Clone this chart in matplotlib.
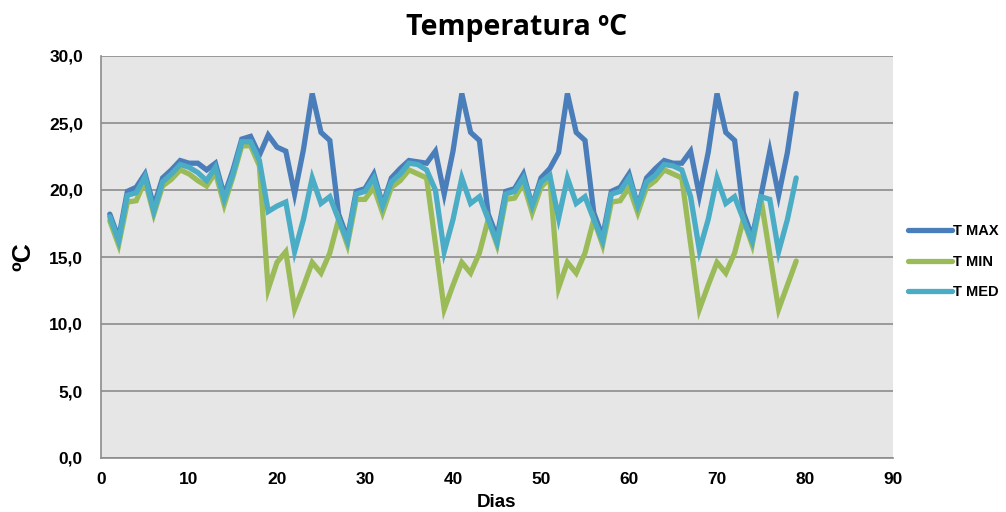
import matplotlib.pyplot as plt
from matplotlib.ticker import FuncFormatter

dias = list(range(1, 80))

t_max = [18.2, 16.4, 19.9, 20.2, 21.2, 18.8, 20.9, 21.5, 22.2, 22.0,
         22.0, 21.5, 22.0, 19.6, 21.5, 23.8, 24.0, 22.6, 24.1, 23.2,
         22.9, 19.7, 23.0, 27.2, 24.3, 23.7, 18.2, 16.4, 19.9, 20.1,
         21.2, 18.9, 20.9, 21.6, 22.2, 22.1, 22.0, 22.9, 19.7, 22.9,
         27.2, 24.3, 23.7, 18.2, 16.5, 19.9, 20.1, 21.2, 18.8, 20.9,
         21.6, 22.8, 27.2, 24.3, 23.7, 18.3, 16.5, 19.9, 20.2, 21.2,
         18.8, 20.9, 21.6, 22.2, 22.0, 22.0, 22.9, 19.6, 22.8, 27.2,
         24.3, 23.7, 18.3, 16.5, 19.6, 22.9, 19.6, 22.8, 27.2]

t_min = [17.7, 15.9, 19.1, 19.2, 20.7, 18.2, 20.3, 20.8, 21.5, 21.2,
         20.7, 20.3, 21.3, 18.9, 21.0, 23.3, 23.3, 21.8, 12.6, 14.6,
         15.4, 11.1, 12.8, 14.6, 13.8, 15.3, 17.8, 15.9, 19.3, 19.3,
         20.2, 18.3, 20.2, 20.7, 21.5, 21.2, 20.9, 16.0, 11.1, 12.9,
         14.6, 13.8, 15.3, 17.8, 15.9, 19.3, 19.4, 20.5, 18.3, 20.2,
         20.9, 12.7, 14.6, 13.8, 15.3, 17.8, 15.9, 19.1, 19.2, 20.2,
         18.3, 20.2, 20.7, 21.5, 21.2, 20.9, 16.0, 11.1, 12.9, 14.6,
         13.8, 15.3, 17.8, 15.9, 19.3, 15.2, 11.1, 12.9, 14.7]

t_med = [18.0, 16.2, 19.6, 19.8, 21.0, 18.4, 20.6, 21.2, 21.9, 21.7,
         21.3, 20.7, 21.7, 19.3, 21.2, 23.6, 23.6, 22.2, 18.4, 18.8,
         19.1, 15.4, 17.8, 20.9, 19.0, 19.5, 17.8, 16.2, 19.7, 19.9,
         20.9, 18.8, 20.6, 21.2, 22.0, 21.9, 21.5, 20.0, 15.4, 17.8,
         20.9, 19.0, 19.5, 17.8, 16.1, 19.7, 19.9, 20.9, 18.8, 20.6,
         21.1, 17.9, 20.9, 19.0, 19.5, 17.8, 16.2, 19.7, 19.9, 20.9,
         18.8, 20.6, 21.1, 21.9, 21.8, 21.5, 19.5, 15.5, 17.8, 20.9,
         19.0, 19.5, 17.8, 16.2, 19.5, 19.3, 15.4, 17.8, 20.9]

series = ["T MAX", "T MIN", "T MED"]
colors = ["#4a7ebb", "#9bbb59", "#4bacc6"]

plt.rcParams["font.family"] = ["Liberation Sans", "DejaVu Sans"]

fig = plt.figure(figsize=(10.06, 5.12), dpi=100)
ax = fig.add_axes([101 / 1006, 54 / 512, 792 / 1006, 402 / 512])
ax.set_facecolor("#e6e6e6")

for name, vals, c in zip(series, [t_max, t_min, t_med], colors):
    ax.plot(dias, vals, color=c, lw=3.8, label=name, solid_capstyle="round",
            solid_joinstyle="miter")

ax.set_xlim(0, 90)
ax.set_ylim(0, 30)
ax.set_xticks(range(0, 91, 10))
ax.set_yticks([0, 5, 10, 15, 20, 25, 30])
ax.yaxis.set_major_formatter(FuncFormatter(lambda v, p: f"{v:.1f}".replace(".", ",")))
ax.grid(axis="y", color="#8c8c8c", lw=1.2)
ax.set_axisbelow(True)
ax.tick_params(axis="y", length=0, labelsize=12.5, pad=13)
ax.tick_params(axis="x", length=0, labelsize=12.5, pad=10)
for lab in ax.get_xticklabels() + ax.get_yticklabels():
    lab.set_fontweight("bold")

for s in ["top", "right"]:
    ax.spines[s].set_visible(False)
for s in ["left", "bottom"]:
    ax.spines[s].set_color("#8c8c8c")
    ax.spines[s].set_linewidth(1.2)

ax.set_xlabel("Dias", fontsize=13.5, fontweight="bold", labelpad=5)
ax.set_ylabel("ºC", fontsize=19, fontweight="bold", labelpad=10)
fig.text(0.514, 0.947, "Temperatura ºC", ha="center", va="center",
         fontsize=20.5, fontweight="bold", family=["Open Sans", "DejaVu Sans"])

leg = ax.legend(loc="center left", bbox_to_anchor=(1.0, 0.488), frameon=False,
                fontsize=10.5, handlelength=3.0, handletextpad=0.05,
                labelspacing=1.12, borderaxespad=0.65)
for t in leg.get_texts():
    t.set_fontweight("bold")

fig.savefig("out.png", dpi=100)
